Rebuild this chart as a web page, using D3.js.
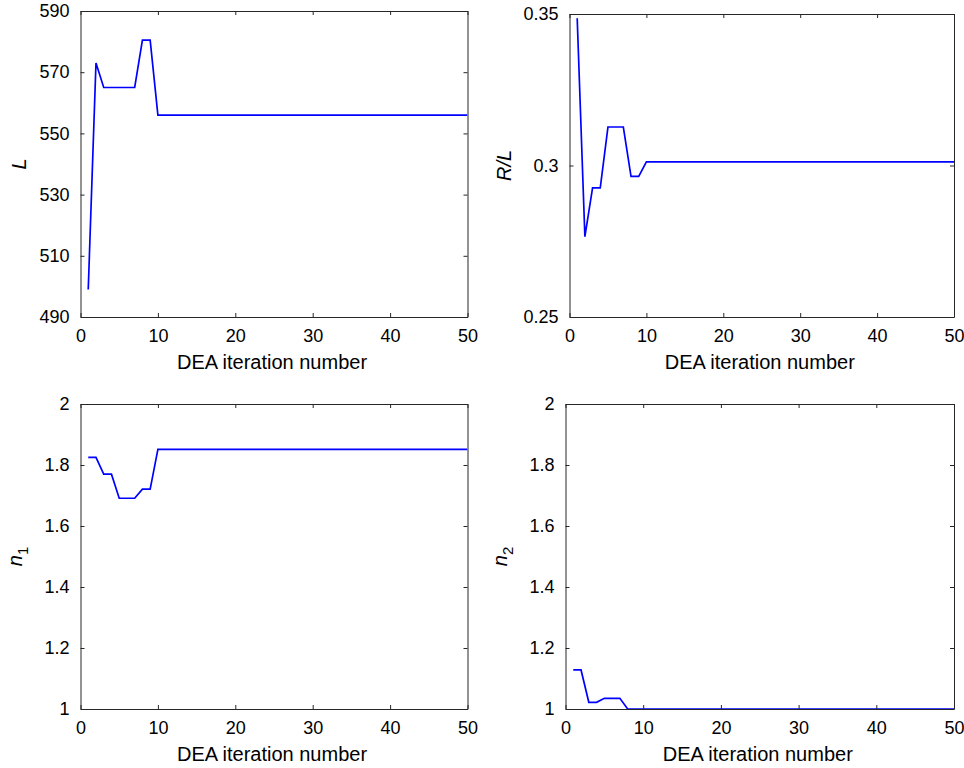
<!DOCTYPE html>
<html>
<head>
<meta charset="utf-8">
<script src="https://cdn.jsdelivr.net/npm/d3@7"></script>
<style>
  html, body { margin: 0; padding: 0; background: #ffffff; }
  svg { display: block; }
  text { font-family: "Liberation Sans", Arial, Helvetica, sans-serif; fill: #000; }
</style>
</head>
<body>
<svg id="chart" width="964" height="768"></svg>
<script>
// ---------- data ----------
const iterations = [1,2,3,4,5,6,7,8,9,10,11,12,13,14,15,16,17,18,19,20,21,22,23,24,25,26,27,28,29,30,31,32,33,34,35,36,37,38,39,40,41,42,43,44,45,46,47,48,49,50];

const L_values = [499,573,565,565,565,565,565,580.5,580.5,556,556,556,556,556,556,556,556,556,556,556,556,556,556,556,556,556,556,556,556,556,556,556,556,556,556,556,556,556,556,556,556,556,556,556,556,556,556,556,556,556];

const RL_values = [0.3486,0.2765,0.2926,0.2926,0.3127,0.3127,0.3127,0.2964,0.2964,0.3012,0.3012,0.3012,0.3012,0.3012,0.3012,0.3012,0.3012,0.3012,0.3012,0.3012,0.3012,0.3012,0.3012,0.3012,0.3012,0.3012,0.3012,0.3012,0.3012,0.3012,0.3012,0.3012,0.3012,0.3012,0.3012,0.3012,0.3012,0.3012,0.3012,0.3012,0.3012,0.3012,0.3012,0.3012,0.3012,0.3012,0.3012,0.3012,0.3012,0.3012];

const n1_values = [1.825,1.825,1.770,1.770,1.691,1.691,1.691,1.721,1.721,1.851,1.851,1.851,1.851,1.851,1.851,1.851,1.851,1.851,1.851,1.851,1.851,1.851,1.851,1.851,1.851,1.851,1.851,1.851,1.851,1.851,1.851,1.851,1.851,1.851,1.851,1.851,1.851,1.851,1.851,1.851,1.851,1.851,1.851,1.851,1.851,1.851,1.851,1.851,1.851,1.851];

const n2_values = [1.128,1.128,1.022,1.022,1.035,1.035,1.035,1.0,1.0,1.0,1.0,1.0,1.0,1.0,1.0,1.0,1.0,1.0,1.0,1.0,1.0,1.0,1.0,1.0,1.0,1.0,1.0,1.0,1.0,1.0,1.0,1.0,1.0,1.0,1.0,1.0,1.0,1.0,1.0,1.0,1.0,1.0,1.0,1.0,1.0,1.0,1.0,1.0,1.0,1.0];

const xTicks = [0,10,20,30,40,50];
const L_ticks = [490,510,530,550,570,590];
const RL_ticks = [0.25,0.3,0.35];
const n_ticks = [1,1.2,1.4,1.6,1.8,2];

const xTitle = "DEA iteration number";

// ---------- panels ----------
const panels = [
  { box: {l: 80.5, t: 11, r: 467.5, b: 317}, values: L_values, yDomain: [490,590], yTicks: L_ticks,
    fmt: d => String(d), label: [{t: "L", it: true}], labelX: 26, xDomain: [0,50] },
  { box: {l: 569.5, t: 14, r: 954, b: 317}, values: RL_values, yDomain: [0.25,0.35], yTicks: RL_ticks,
    fmt: d => String(d), label: [{t: "R/L", it: true}], labelX: 511, xDomain: [0,50] },
  { box: {l: 80.5, t: 404, r: 467.5, b: 709}, values: n1_values, yDomain: [1,2], yTicks: n_ticks,
    fmt: d => String(d), label: [{t: "n", it: true}, {t: "1", sub: true}], labelX: 22, xDomain: [0,50] },
  { box: {l: 565.5, t: 404, r: 954, b: 709}, values: n2_values, yDomain: [1,2], yTicks: n_ticks,
    fmt: d => String(d), label: [{t: "n", it: true}, {t: "2", sub: true}], labelX: 507, xDomain: [0,50] }
];

const svg = d3.select("#chart");
const axisColor = "#262626";
const tickLen = 4;

panels.forEach(p => {
  const b = p.box;
  const x = d3.scaleLinear().domain(p.xDomain).range([b.l, b.r]);
  const y = d3.scaleLinear().domain(p.yDomain).range([b.b, b.t]);
  const g = svg.append("g");

  // clip path
  const cid = "clip" + Math.round(b.l) + "_" + Math.round(b.t);
  svg.append("clipPath").attr("id", cid).append("rect")
    .attr("x", b.l).attr("y", b.t - 1).attr("width", b.r - b.l).attr("height", b.b - b.t + 2);

  // data line
  const line = d3.line().x((d, i) => x(iterations[i])).y(d => y(d));
  g.append("path").datum(p.values)
    .attr("clip-path", `url(#${cid})`)
    .attr("fill", "none").attr("stroke", "#0000ff").attr("stroke-width", 1.7)
    .attr("stroke-linejoin", "miter")
    .attr("d", line);

  // bottom axis
  const bx = g.append("g").attr("transform", `translate(0,${b.b})`)
    .call(d3.axisBottom(x).tickValues(xTicks).tickSizeInner(-tickLen).tickSizeOuter(0).tickPadding(12).tickFormat(d => String(d)));
  // top axis (ticks only)
  const tx = g.append("g").attr("transform", `translate(0,${b.t})`)
    .call(d3.axisTop(x).tickValues(xTicks).tickSizeInner(-tickLen).tickSizeOuter(0).tickFormat(""));
  // left axis
  const ly = g.append("g").attr("transform", `translate(${b.l},0)`)
    .call(d3.axisLeft(y).tickValues(p.yTicks).tickSizeInner(-tickLen).tickSizeOuter(0).tickPadding(11).tickFormat(p.fmt));
  // right axis (ticks only)
  const ry = g.append("g").attr("transform", `translate(${b.r},0)`)
    .call(d3.axisRight(y).tickValues(p.yTicks).tickSizeInner(-tickLen).tickSizeOuter(0).tickFormat(""));

  [bx, tx, ly, ry].forEach(a => {
    a.select(".domain").attr("stroke", axisColor).attr("stroke-width", 1);
    a.selectAll(".tick line").attr("stroke", axisColor).attr("stroke-width", 1);
    a.selectAll(".tick text").attr("font-size", 18).attr("font-family", "Liberation Sans, Arial, sans-serif").attr("fill", "#000");
  });

  // x title
  g.append("text")
    .attr("x", (b.l + b.r) / 2 - 2).attr("y", b.b + 52)
    .attr("text-anchor", "middle").attr("font-size", 20)
    .text(xTitle);

  // y title
  const cy = (b.t + b.b) / 2;
  const yt = g.append("text")
    .attr("transform", `translate(${p.labelX},${cy}) rotate(-90)`)
    .attr("text-anchor", "middle").attr("font-size", 20);
  p.label.forEach(part => {
    const ts = yt.append("tspan").text(part.t);
    if (part.it) ts.attr("font-style", "italic");
    if (part.sub) ts.attr("font-size", 15).attr("dy", 6);
  });
});
</script>
</body>
</html>
